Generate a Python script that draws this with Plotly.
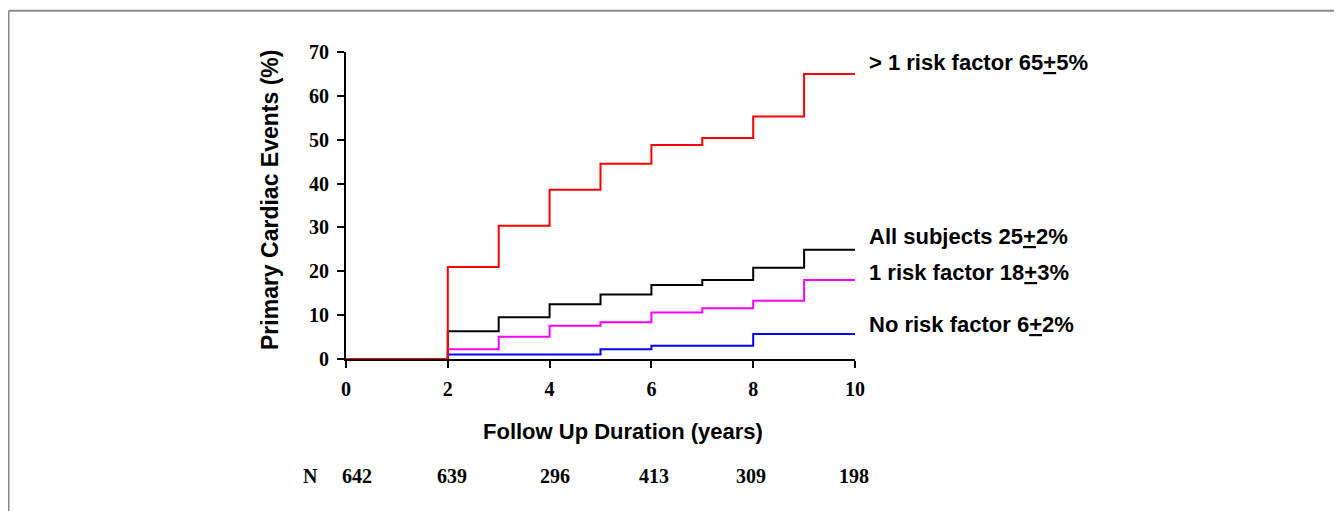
import plotly.graph_objects as go

# ---------------- data ----------------
years = [0, 1, 2, 3, 4, 5, 6, 7, 8, 9, 10]
more_than_one = [0, 0, 21.0, 30.4, 38.6, 44.5, 48.8, 50.4, 55.3, 65.0, 65.0]
all_subjects = [0, 0, 6.3, 9.5, 12.5, 14.7, 16.9, 18.0, 20.8, 24.9, 24.9]
one_risk = [0, 0, 2.2, 5.1, 7.6, 8.4, 10.6, 11.6, 13.3, 18.0, 18.0]
no_risk = [0, 0, 1.0, 1.0, 1.0, 2.2, 3.0, 3.0, 5.7, 5.7, 5.7]

series_names = ["No risk factor", "1 risk factor", "All subjects", "> 1 risk factor"]
series_labels = ["No risk factor 6<u>+</u>2%", "1 risk factor 18<u>+</u>3%",
                 "All subjects 25<u>+</u>2%", "> 1 risk factor 65<u>+</u>5%"]
series_colors = ["#0000FF", "#FF00FF", "#000000", "#FF0000"]
series_values = [no_risk, one_risk, all_subjects, more_than_one]

x_ticks = [0, 2, 4, 6, 8, 10]
y_ticks = [0, 10, 20, 30, 40, 50, 60, 70]

n_label = "N"
n_values = ["642", "639", "296", "413", "309", "198"]
n_positions = [0.22, 2.08, 4.1, 6.06, 7.96, 9.98]

x_title = "Follow Up Duration (years)"
y_title = "Primary Cardiac Events (%)"

# ---------------- layout geometry ----------------
OFF = 8                     # page body margin of the html page
W, H = 1342 - OFF, 511 - OFF
L, R, T, B = 346, 855, 52, 359  # plot area in page pixels


def px_x(p):
    return (p - L) / (R - L)


def px_y(p):
    return (B - p) / (B - T)


fig = go.Figure()

for name, vals, col in zip(series_names, series_values, series_colors):
    fig.add_trace(go.Scatter(
        x=years, y=vals, mode="lines", name=name,
        line=dict(color=col, width=2, shape="hv"),
        showlegend=False, hoverinfo="x+y+name",
    ))

label_font = dict(family="Liberation Sans, Arial, sans-serif", size=22, color="black")
label_yshift = [10, 8, 13, 11]
annotations = []
for lab, vals, ys in zip(series_labels, series_values, label_yshift):
    annotations.append(dict(
        x=years[-1], y=vals[-1], xref="x", yref="y", text="<b>" + lab + "</b>",
        showarrow=False, xanchor="left", yanchor="middle",
        xshift=12, yshift=ys, font=label_font,
    ))

# axis titles
annotations.append(dict(
    x=px_x(623), y=px_y(431), xref="paper", yref="paper",
    text="<b>" + x_title + "</b>", showarrow=False,
    xanchor="center", yanchor="middle", font=dict(label_font, size=22),
))
annotations.append(dict(
    x=px_x(270), y=px_y(200), xref="paper", yref="paper",
    text="<b>" + y_title + "</b>", showarrow=False, textangle=-90,
    xanchor="center", yanchor="middle", font=dict(label_font, size=23),
))

num_font = dict(family="Liberation Serif, Times New Roman, serif", size=20, color="black")
annotations.append(dict(
    x=px_x(310), y=px_y(476), xref="paper", yref="paper",
    text="<b>" + n_label + "</b>", showarrow=False,
    xanchor="center", yanchor="middle", font=num_font,
))
for xv, nv in zip(n_positions, n_values):
    annotations.append(dict(
        x=xv, y=px_y(476), xref="x", yref="paper",
        text="<b>" + nv + "</b>", showarrow=False,
        xanchor="center", yanchor="middle", font=num_font,
    ))

shapes = [
    # outer frame (top & left light gray, right darker)
    dict(type="line", xref="paper", yref="paper",
         x0=px_x(8.5), x1=px_x(1336), y0=px_y(10.8), y1=px_y(10.8),
         line=dict(color="#8a8a8a", width=2)),
    dict(type="line", xref="paper", yref="paper",
         x0=px_x(8.5), x1=px_x(8.5), y0=px_y(10.8), y1=px_y(520),
         line=dict(color="#8a8a8a", width=2)),
    dict(type="line", xref="paper", yref="paper",
         x0=px_x(1336), x1=px_x(1336), y0=px_y(10.8), y1=px_y(520),
         line=dict(color="#444444", width=1.5)),
]

fig.update_layout(
    width=W, height=H,
    margin=dict(l=L - OFF, r=W - (R - OFF), t=T - OFF, b=H - (B - OFF), pad=0),
    paper_bgcolor="white", plot_bgcolor="white",
    annotations=annotations, shapes=shapes,
    xaxis=dict(
        range=[0, 10], tickvals=x_ticks, ticktext=["<b>%d</b>" % v for v in x_ticks],
        showgrid=False, zeroline=False, showline=True, linecolor="black", linewidth=2,
        ticks="outside", ticklen=7, tickwidth=2, tickcolor="black",
        tickfont=num_font, ticklabelstandoff=4, fixedrange=True,
    ),
    yaxis=dict(
        range=[0, 70], tickvals=y_ticks, ticktext=["<b>%d</b>" % v for v in y_ticks],
        showgrid=False, zeroline=False, showline=True, linecolor="black", linewidth=2,
        ticks="outside", ticklen=7, tickwidth=2, tickcolor="black",
        tickfont=num_font, ticklabelstandoff=4, fixedrange=True,
    ),
)

fig.write_html("out.html")
